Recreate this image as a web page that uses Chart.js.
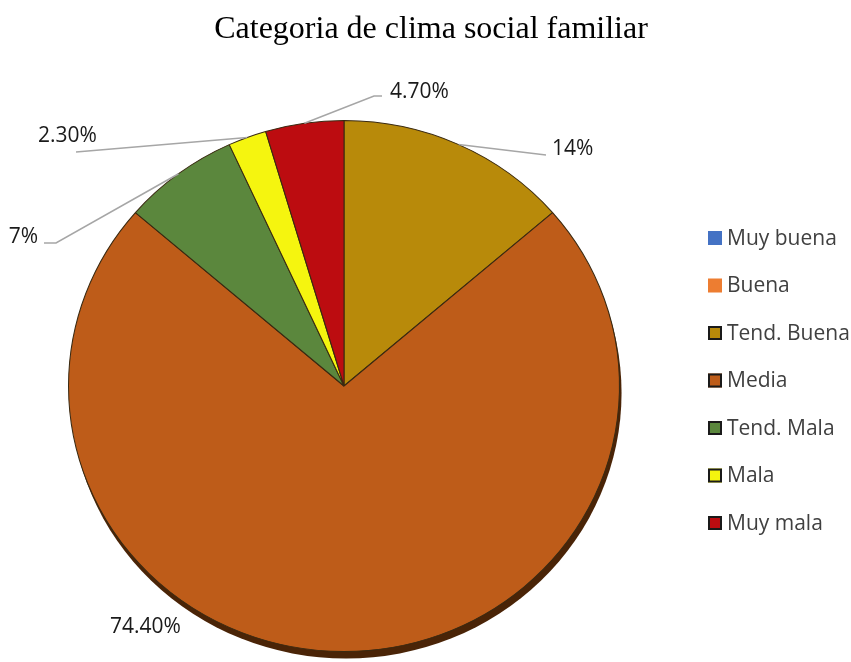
<!DOCTYPE html>
<html>
<head>
<meta charset="utf-8">
<script src="https://cdn.jsdelivr.net/npm/chart.js@4.4.0/dist/chart.umd.min.js"></script>
<style>
    html, body { margin: 0; padding: 0; background: #fff; }
    canvas { display: block; }
</style>
</head>
<body>
<canvas id="pieChart" width="851" height="662"></canvas>
<script>
const chartTitle = "Categoria de clima social familiar";
const categories = ["Muy buena", "Buena", "Tend. Buena", "Media", "Tend. Mala", "Mala", "Muy mala"];
const percentages = [0, 0, 14, 74.4, 7, 2.3, 4.7];
const percentLabels = ["", "", "14%", "74.40%", "7%", "2.30%", "4.70%"];
const sliceColors = ["#4472C4", "#ED7D31", "#B88A0A", "#BE5C19", "#5B873D", "#F5F50F", "#BC0C10"];

// label placement (text anchor + leader bends), index matches categories
const labelLayout = [
    null,
    null,
    { x: 552, y: 149, align: "left", bends: [[546, 155]] },
    { x: 110, y: 627, align: "left", bends: null },
    { x: 38, y: 237, align: "right", bends: [[56, 243], [44, 243]] },
    { x: 38, y: 136, align: "left", bends: [[76, 152]] },
    { x: 390, y: 92, align: "left", bends: [[374, 96], [382, 96]] }
];

const stretchX = 276 / 266;
const labelFont = '21px "Open Sans"';

const pieLook = {
    id: "pieLook",
    beforeDatasetsDraw(chart) {
        const ctx = chart.ctx;
        const arc = chart.getDatasetMeta(0).data[0];
        const { x, y, outerRadius } = arc;
        ctx.save();
        ctx.translate(x, y);
        ctx.scale(stretchX, 1);
        ctx.translate(-x, -y);
        // bottom rim of the tilted pie
        ctx.beginPath();
        ctx.arc(x + 2, y + 7, outerRadius, 0, Math.PI * 2);
        ctx.fillStyle = "#4a2407";
        ctx.fill();
    },
    afterDatasetsDraw(chart) {
        const ctx = chart.ctx;
        ctx.restore();

        const arcs = chart.getDatasetMeta(0).data;
        ctx.save();
        ctx.font = labelFont;
        ctx.textBaseline = "middle";
        arcs.forEach((arc, i) => {
            const spec = labelLayout[i];
            if (!spec || !percentages[i]) return;
            const mid = (arc.startAngle + arc.endAngle) / 2;
            const ax = arc.x + arc.outerRadius * stretchX * Math.cos(mid);
            const ay = arc.y + arc.outerRadius * Math.sin(mid);

            if (spec.bends) {
                ctx.beginPath();
                ctx.moveTo(ax, ay);
                spec.bends.forEach(p => ctx.lineTo(p[0], p[1]));
                ctx.strokeStyle = "#a6a6a6";
                ctx.lineWidth = 1.5;
                ctx.stroke();
            }
            ctx.fillStyle = "#1a1a1a";
            ctx.textAlign = spec.align;
            ctx.fillText(percentLabels[i], spec.x, spec.y);
        });
        ctx.restore();
    },
    afterDraw(chart) {
        const ctx = chart.ctx;
        ctx.save();
        ctx.fillStyle = "#000";
        ctx.font = '32px "Liberation Serif"';
        ctx.textAlign = "center";
        ctx.textBaseline = "alphabetic";
        ctx.fillText(chartTitle, 431, 38);

        // legend
        ctx.font = labelFont;
        ctx.textAlign = "left";
        ctx.textBaseline = "middle";
        categories.forEach((name, i) => {
            const cy = 238 + i * 47.5;
            ctx.fillStyle = sliceColors[i];
            ctx.fillRect(708, cy - 7, 14, 14);
            if (i > 1) {
                ctx.strokeStyle = "#1a1a1a";
                ctx.lineWidth = 2;
                ctx.strokeRect(709, cy - 6, 12, 12);
            }
            ctx.fillStyle = "#404040";
            ctx.fillText(name, 727, cy + 1);
        });
        ctx.restore();
    }
};

new Chart(document.getElementById("pieChart"), {
    type: "pie",
    data: {
        labels: categories,
        datasets: [{
            data: percentages,
            backgroundColor: sliceColors,
            borderColor: "#3a2a12",
            borderWidth: 1
        }]
    },
    options: {
        responsive: false,
        animation: false,
        devicePixelRatio: 1,
        layout: { padding: { left: 78, right: 241, top: 120, bottom: 10 } },
        plugins: {
            legend: { display: false },
            tooltip: { enabled: false },
            title: { display: false }
        }
    },
    plugins: [pieLook]
});
</script>
</body>
</html>
